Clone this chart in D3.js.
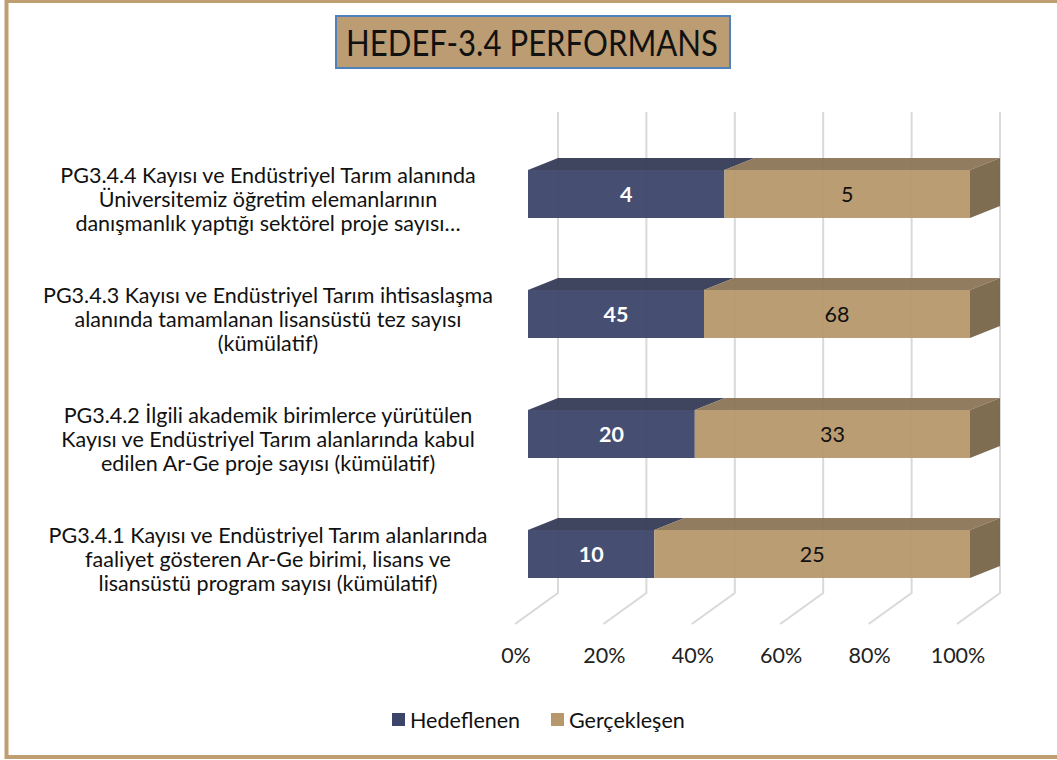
<!DOCTYPE html>
<html><head><meta charset="utf-8">
<script src="https://cdn.jsdelivr.net/npm/d3@7"></script>
<style>body{margin:0;background:#fff}svg{display:block}</style>
</head><body>
<svg id="c" width="1057" height="760"></svg>
<script>
const title = "HEDEF-3.4 PERFORMANS";
const categories = [
  "PG3.4.4 Kayısı ve Endüstriyel Tarım alanında\nÜniversitemiz öğretim elemanlarının\ndanışmanlık yaptığı sektörel proje sayısı…",
  "PG3.4.3 Kayısı ve Endüstriyel Tarım ihtisaslaşma\nalanında tamamlanan lisansüstü tez sayısı\n(kümülatif)",
  "PG3.4.2  İlgili akademik birimlerce yürütülen\nKayısı ve Endüstriyel Tarım alanlarında kabul\nedilen Ar-Ge proje sayısı (kümülatif)",
  "PG3.4.1 Kayısı ve Endüstriyel Tarım alanlarında\nfaaliyet gösteren Ar-Ge birimi, lisans ve\nlisansüstü program sayısı (kümülatif)"
];
const hedeflenen = [4, 45, 20, 10];
const gerceklesen = [5, 68, 33, 25];
const seriesNames = ["Hedeflenen", "Gerçekleşen"];
const tickValues = [0, 0.2, 0.4, 0.6, 0.8, 1.0];
const tickLabels = ["0%", "20%", "40%", "60%", "80%", "100%"];

const FONT = "Lato, 'Open Sans', sans-serif";
const FS = 21.5;
const svg = d3.select("#c");

// frame
svg.append("rect").attr("x", 6.5).attr("y", 1).attr("width", 1060).attr("height", 756)
  .attr("fill", "none").attr("stroke", "#bf9f72").attr("stroke-width", 4);

// title
svg.append("rect").attr("x", 336).attr("y", 16).attr("width", 394).attr("height", 52)
  .attr("fill", "#bc9d73").attr("stroke", "#4f81bd").attr("stroke-width", 2);
svg.append("text").attr("x", 532).attr("y", 56).attr("text-anchor", "middle")
  .attr("font-family", FONT).attr("font-size", 37).attr("fill", "#111")
  .attr("textLength", 372).attr("lengthAdjust", "spacingAndGlyphs").text(title);

const x = d3.scaleLinear().domain([0, 1]).range([528, 970]);
const y = d3.scaleBand().domain(categories).range([134, 614]).paddingInner(0.6).paddingOuter(0.3);
const DX = 30, DY = -12;
const gTop = 112, gBot = 593, FX = -43, FY = 31;

// gridlines
const grid = svg.append("g").attr("stroke", "#d9d9d9").attr("stroke-width", 2).attr("fill", "none");
tickValues.forEach(t => {
  const xb = x(t) + DX;
  grid.append("path").attr("d", `M${xb},${gTop}L${xb},${gBot}L${xb + FX},${gBot + FY}`);
});

// axis labels
svg.append("g").selectAll("text").data(tickValues).join("text")
  .attr("x", (d) => x(d) + DX + FX + 1).attr("y", 663).attr("text-anchor", "middle")
  .attr("font-family", FONT).attr("font-size", FS).attr("fill", "#222")
  .text((d, i) => tickLabels[i]);

const data = categories.map((c, i) => {
  const tot = hedeflenen[i] + gerceklesen[i];
  return {c, a: hedeflenen[i], b: gerceklesen[i], pa: hedeflenen[i] / tot};
});

const colors = {
  blue: {front: "#3c4469", top: "#353a56", side: "#2c3148"},
  tan: {front: "#b7986d", top: "#8b7556", side: "#776547"}
};
const bars = svg.append("g");
data.forEach(d => {
  const y0 = y(d.c), h = y.bandwidth();
  const segs = [
    {x0: x(0), x1: x(d.pa), col: colors.blue},
    {x0: x(d.pa), x1: x(1), col: colors.tan}
  ];
  segs.forEach((s, k) => {
    const g = bars.append("g").attr("fill-opacity", 0.95);
    g.append("path").attr("fill", s.col.top)
      .attr("d", `M${s.x0},${y0}L${s.x0 + DX},${y0 + DY}L${s.x1 + DX},${y0 + DY}L${s.x1},${y0}Z`);
    g.append("rect").attr("x", s.x0).attr("y", y0).attr("width", s.x1 - s.x0).attr("height", h)
      .attr("fill", s.col.front);
    if (k === 1) {
      g.append("path").attr("fill", s.col.side)
        .attr("d", `M${s.x1},${y0}L${s.x1 + DX},${y0 + DY}L${s.x1 + DX},${y0 + DY + h}L${s.x1},${y0 + h}Z`);
    }
  });
  bars.append("text").attr("x", (x(0) + x(d.pa)) / 2).attr("y", y0 + h / 2 + 8)
    .attr("text-anchor", "middle").attr("font-family", FONT).attr("font-size", FS)
    .attr("font-weight", "bold").attr("fill", "#fff").text(d.a);
  bars.append("text").attr("x", (x(d.pa) + x(1)) / 2).attr("y", y0 + h / 2 + 8)
    .attr("text-anchor", "middle").attr("font-family", FONT).attr("font-size", FS)
    .attr("fill", "#111").text(d.b);
});

// category labels
const lab = svg.append("g");
categories.forEach(c => {
  const lines = c.split("\n");
  const cy = y(c) + y.bandwidth() / 2 + 6;
  const t = lab.append("text").attr("text-anchor", "middle").attr("font-family", FONT)
    .attr("font-size", FS).attr("fill", "#111");
  lines.forEach((ln, i) => {
    t.append("tspan").attr("x", 268).attr("y", cy + (i - (lines.length - 1) / 2) * 24 + 7).text(ln);
  });
});

// legend
const leg = svg.append("g").attr("font-family", FONT).attr("font-size", FS).attr("fill", "#111");
const legItems = [{n: seriesNames[0], c: colors.blue.front, x: 392}, {n: seriesNames[1], c: colors.tan.front, x: 551}];
legItems.forEach(it => {
  leg.append("rect").attr("x", it.x).attr("y", 713).attr("width", 13).attr("height", 13).attr("fill", it.c);
  leg.append("text").attr("x", it.x + 18).attr("y", 728).text(it.n);
});
</script>
</body></html>
